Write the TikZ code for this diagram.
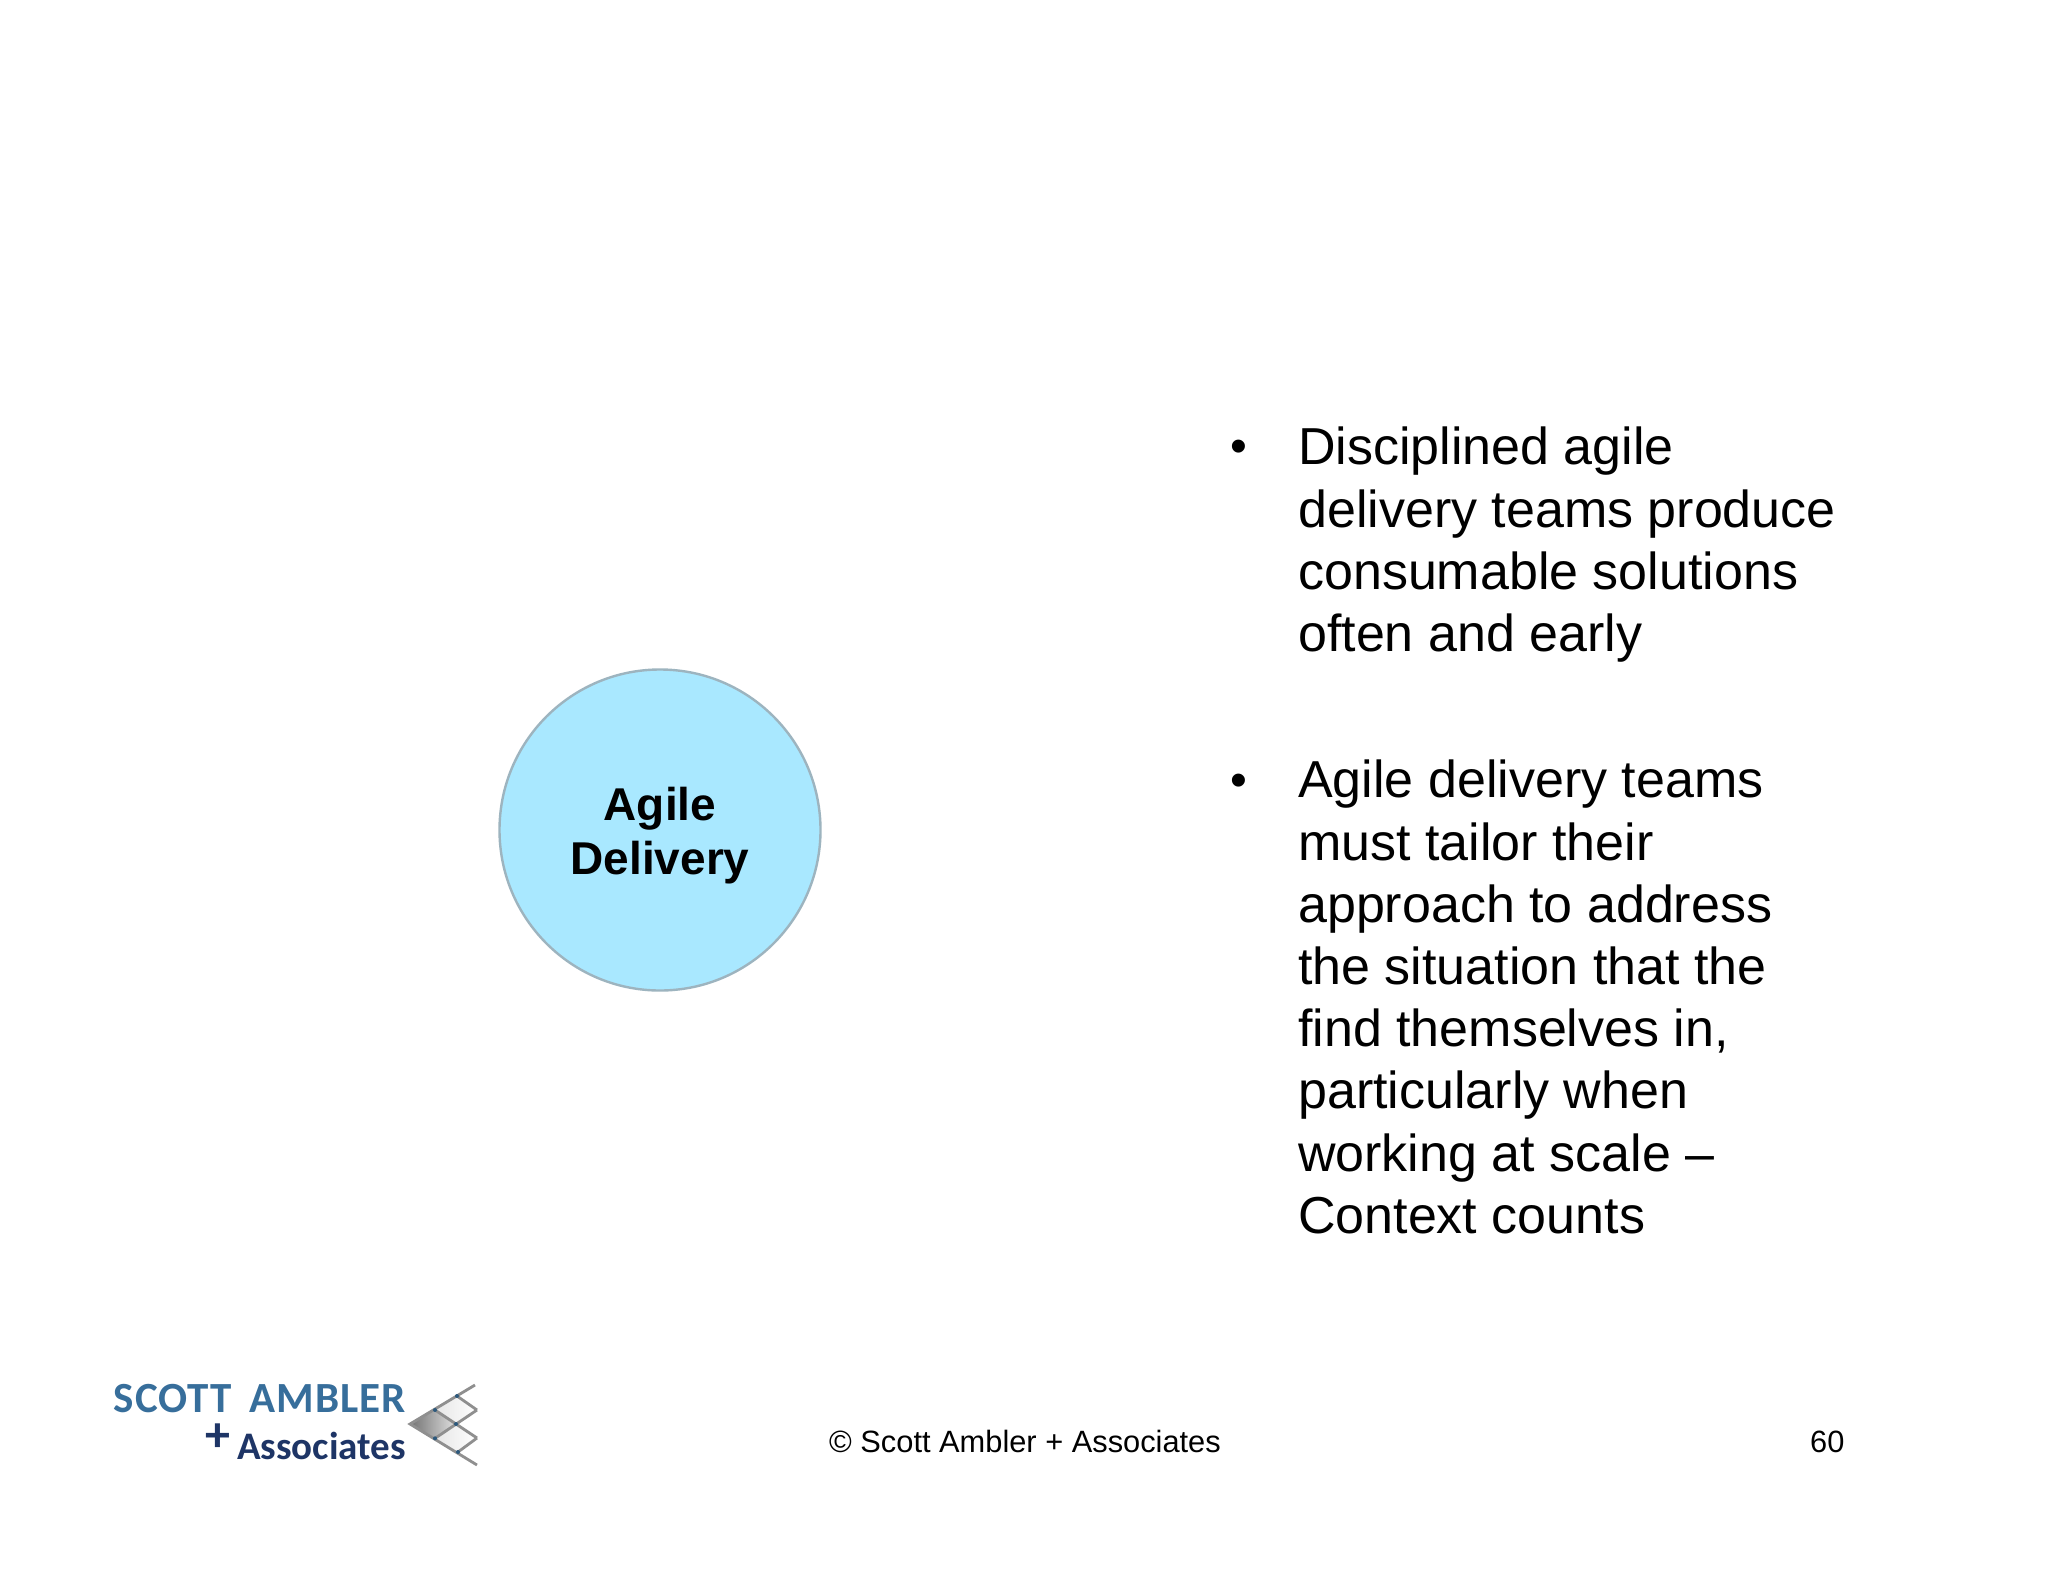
\documentclass[tikz,border=0pt]{standalone}
\usepackage{fontspec}
\setmainfont{Liberation Sans}
\newfontfamily\logofont{Carlito}
\newfontfamily\logofontwide[LetterSpace=2.5,WordSpace=1.6]{Carlito}
\definecolor{circfill}{HTML}{A9E8FF}
\definecolor{circline}{HTML}{9DB4BF}
\definecolor{logoblue}{HTML}{376E9B}
\definecolor{logonavy}{HTML}{1E3566}
\definecolor{logoline}{HTML}{8F8F8F}
\tikzset{
  bodytext/.style={anchor=north west,inner sep=0pt,align=left,font=\fontsize{52}{62.2}\selectfont},
  bulletmark/.style={anchor=center,inner sep=0pt,font=\fontsize{48}{50}\selectfont},
  foottext/.style={anchor=base west,inner sep=0pt,font=\fontsize{30.8}{38}\selectfont},
  logoedge/.style={draw=logoline,line width=2.8pt},
  logodot/.style={fill=logoblue!80!black},
}
\begin{document}
\begin{tikzpicture}[x=1pt,y=-1pt]
\useasboundingbox (0,0) rectangle (2048,1582);
\fill[white] (0,0) rectangle (2048,1582);
% circle
\node[circle,minimum size=321pt,inner sep=0pt,fill=circfill,draw=circline,line width=2.4pt] (agile) at (660,830) {};
\node[anchor=base,inner sep=0pt,font=\fontsize{46}{54}\selectfont\bfseries,align=center] (agileT) at (660,820) {Agile};
\node[anchor=base,inner sep=0pt,font=\fontsize{46}{54}\selectfont\bfseries] (agileB) at (660,874) {Delivery};
% bullets
\node[bulletmark] (b1) at (1239,451) {•};
\node[bulletmark] (b2) at (1239,785) {•};
\node[bodytext] (t1) at (1298,427) {Disciplined agile\\delivery teams produce\\consumable solutions\\often and early};
\node[bodytext] (t2) at (1298,760) {Agile delivery teams\\must tailor their\\approach to address\\the situation that the\\find themselves in,\\particularly when\\working at scale --\\Context counts};
% footer
\node[foottext] (foot) at (829,1452) {© Scott Ambler + Associates};
\node[foottext] (page) at (1810,1452) {60};
% logo
\node[anchor=base east,inner sep=0pt,text=logoblue,font=\logofontwide\fontsize{43}{50}\selectfont\bfseries] (logoA) at (406,1412) {SCOTT AMBLER};
\node[anchor=base east,inner sep=0pt,text=logonavy,font=\logofont\fontsize{39}{46}\selectfont\bfseries] (logoB) at (406,1459) {Associates};
\node[anchor=center,inner sep=0pt,text=logonavy,font=\logofont\fontsize{50}{50}\selectfont\bfseries] (logoP) at (218,1438) {+};
\shade[left color=black!55,right color=black!12] (410,1424) -- (435,1410) -- (456,1424) -- (435,1438.3) -- cycle;
\shade[left color=black!10,right color=white] (435,1410) -- (457,1396) -- (477,1410) -- (456,1424) -- cycle;
\shade[left color=black!10,right color=white] (435,1438.3) -- (456,1424) -- (477,1438) -- (458,1452) -- cycle;
\draw[logoedge] (475,1385) -- (410,1424) -- (477,1465);
\draw[logoedge] (435,1410) -- (477,1438);
\draw[logoedge] (457,1396) -- (477,1410);
\draw[logoedge] (435,1438.3) -- (477,1410);
\draw[logoedge] (458,1452) -- (477,1438);
\fill[logodot] (435,1410) circle (2pt) (457,1396) circle (2pt) (456,1424) circle (2pt) (435,1438.3) circle (2pt) (458,1452) circle (2pt);
\end{tikzpicture}
\end{document}
